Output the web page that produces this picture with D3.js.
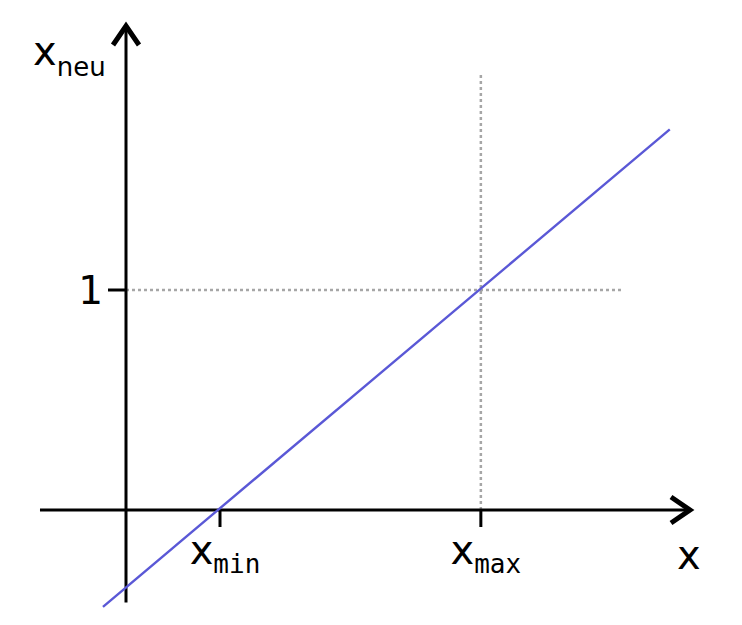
<!DOCTYPE html>
<html>
<head>
<meta charset="utf-8">
<script src="https://cdn.jsdelivr.net/npm/d3@7"></script>
<style>
  body { margin: 0; background: #fff; }
  text { font-family: "DejaVu Sans", sans-serif; fill: #000; }
</style>
</head>
<body>
<div id="chart"></div>
<script>
// values in abstract units (x axis 0 at the y axis, y: 0 and 1)
var xTicks = [{ v: 2.0, sub: "min" }, { v: 7.55, sub: "max" }];
var yTicks = [{ v: 1, label: "1" }];
var lineX = [-0.49, 11.57];
var lineY = [-0.44, 1.73];
var xDomain = [-1.83, 12.0];   // axis extent left -> arrow tip
var yDomain = [-0.42, 2.2];    // axis extent bottom -> arrow tip

var width = 742, height = 625;
var svg = d3.select("#chart").append("svg")
  .attr("width", width)
  .attr("height", height);

var x = d3.scaleLinear().domain([0, 1]).range([126, 173]); // 47 px per unit
var y = d3.scaleLinear().domain([0, 1]).range([510, 290]);

// dotted guides
svg.append("line")
  .attr("x1", x(xTicks[1].v)).attr("x2", x(xTicks[1].v))
  .attr("y1", y(0)).attr("y2", 72)
  .style("stroke", "#a6a6a6").style("stroke-width", 2.5)
  .style("stroke-dasharray", "3,3");
svg.append("line")
  .attr("x1", x(0)).attr("x2", 623)
  .attr("y1", y(1)).attr("y2", y(1))
  .style("stroke", "#a6a6a6").style("stroke-width", 2.5)
  .style("stroke-dasharray", "3,3");

// axes
var xEnd = x(xDomain[1]) - 2, yEnd = y(yDomain[1]) + 2;
svg.append("line")
  .attr("x1", x(xDomain[0])).attr("x2", xEnd)
  .attr("y1", y(0)).attr("y2", y(0))
  .style("stroke", "#000").style("stroke-width", 3);
svg.append("line")
  .attr("x1", x(0)).attr("x2", x(0))
  .attr("y1", y(yDomain[0])).attr("y2", yEnd)
  .style("stroke", "#000").style("stroke-width", 3);

// arrow heads
var tipX = x(xDomain[1]), tipY = y(yDomain[1]);
svg.append("path")
  .attr("d", "M" + (tipX - 19) + "," + (y(0) - 13) + "L" + tipX + "," + y(0) + "L" + (tipX - 19) + "," + (y(0) + 13))
  .style("fill", "none").style("stroke", "#000").style("stroke-width", 5)
  .style("stroke-linejoin", "miter");
svg.append("path")
  .attr("d", "M" + (x(0) - 13) + "," + (tipY + 19) + "L" + x(0) + "," + tipY + "L" + (x(0) + 13) + "," + (tipY + 19))
  .style("fill", "none").style("stroke", "#000").style("stroke-width", 5)
  .style("stroke-linejoin", "miter");

// x ticks
xTicks.forEach(function (d) {
  svg.append("line")
    .attr("x1", x(d.v)).attr("x2", x(d.v))
    .attr("y1", y(0)).attr("y2", y(0) + 17)
    .style("stroke", "#000").style("stroke-width", 3);
  var t = svg.append("text")
    .attr("x", x(d.v) + 5).attr("y", 564)
    .attr("text-anchor", "middle");
  t.append("tspan").style("font-size", "40px").text("x");
  t.append("tspan").attr("dy", 9)
    .style("font-family", "'DejaVu Sans Mono', monospace")
    .style("font-size", "26px").text(d.sub);
});

// y ticks
yTicks.forEach(function (d) {
  svg.append("line")
    .attr("x1", x(0) - 18).attr("x2", x(0))
    .attr("y1", y(d.v)).attr("y2", y(d.v))
    .style("stroke", "#000").style("stroke-width", 3);
  svg.append("text")
    .attr("x", 103).attr("y", y(d.v) + 14)
    .attr("text-anchor", "end")
    .style("font-size", "39px")
    .text(d.label);
});

// data line
var line = d3.line()
  .x(function (d) { return x(d[0]); })
  .y(function (d) { return y(d[1]); });
svg.append("path")
  .datum(d3.zip(lineX, lineY))
  .attr("d", line)
  .style("fill", "none")
  .style("stroke", "#5a58d6")
  .style("stroke-width", 2.4);

// axis labels
svg.append("text")
  .attr("x", 677).attr("y", 569)
  .style("font-size", "40px").text("x");
var yl = svg.append("text").attr("x", 33).attr("y", 65);
yl.append("tspan").style("font-size", "40px").text("x");
yl.append("tspan").attr("dy", 11).style("font-size", "26px").text("neu");
</script>
</body>
</html>
